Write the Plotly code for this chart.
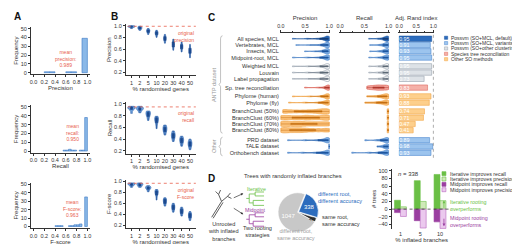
import plotly.graph_objects as go

W, H = 520, 244
FONT = "Liberation Sans"
INK = "#333333"
RED = "#e8604c"

# ===================== DATA =====================
# ---- Panel A: histograms ----
a_metrics = ["Precision", "Recall", "F-score"]
a_means = [0.989, 0.950, 0.963]
a_bin_widths = [0.1, 0.05, 0.05]
a_prec_centres = [0.25, 0.35, 0.65, 0.75, 0.95]
a_prec_counts = [1, 1, 1, 1, 39]
a_rec_centres = [0.575, 0.625, 0.675, 0.725, 0.775, 0.875, 0.925, 0.975]
a_rec_counts = [1, 1, 2, 1, 1, 1, 1, 38]
a_f_centres = [0.425, 0.475, 0.525, 0.675, 0.725, 0.775, 0.825, 0.875, 0.975]
a_f_counts = [1, 1, 1, 1, 1, 2, 2, 3, 35]
a_xticks = [0.0, 0.2, 0.4, 0.6, 0.8, 1.0]
a_yticks = [0, 10, 20, 30, 40, 50]

# ---- Panel B: violins per % randomised genes ----
b_categories = ["1", "2", "5", "10", "20", "30", "40", "50"]
b_precision = [
    [0.95, 0.97, 0.98, 0.98, 0.99, 0.99, 1.00],
    [0.92, 0.94, 0.95, 0.96, 0.97, 0.98, 0.99],
    [0.85, 0.88, 0.90, 0.91, 0.92, 0.93, 0.95],
    [0.80, 0.84, 0.86, 0.87, 0.88, 0.90, 0.92],
    [0.70, 0.74, 0.77, 0.78, 0.79, 0.82, 0.85],
    [0.58, 0.63, 0.66, 0.68, 0.70, 0.73, 0.77],
    [0.55, 0.60, 0.62, 0.64, 0.66, 0.68, 0.72],
    [0.45, 0.52, 0.55, 0.57, 0.59, 0.62, 0.68],
]
b_recall = [
    [0.84, 0.90, 0.92, 0.93, 0.94, 0.95, 0.96],
    [0.85, 0.89, 0.91, 0.92, 0.93, 0.94, 0.96],
    [0.72, 0.78, 0.81, 0.83, 0.85, 0.86, 0.88],
    [0.58, 0.67, 0.71, 0.73, 0.75, 0.77, 0.79],
    [0.47, 0.52, 0.55, 0.57, 0.59, 0.61, 0.64],
    [0.36, 0.41, 0.44, 0.46, 0.48, 0.50, 0.54],
    [0.28, 0.33, 0.36, 0.38, 0.40, 0.42, 0.45],
    [0.22, 0.27, 0.30, 0.32, 0.34, 0.36, 0.40],
]
b_fscore = [
    [0.89, 0.92, 0.94, 0.95, 0.95, 0.96, 0.97],
    [0.89, 0.91, 0.93, 0.94, 0.95, 0.96, 0.97],
    [0.81, 0.85, 0.87, 0.88, 0.89, 0.90, 0.92],
    [0.66, 0.74, 0.78, 0.80, 0.81, 0.83, 0.85],
    [0.55, 0.59, 0.62, 0.64, 0.66, 0.68, 0.70],
    [0.44, 0.48, 0.51, 0.53, 0.55, 0.57, 0.60],
    [0.37, 0.41, 0.44, 0.46, 0.48, 0.50, 0.53],
    [0.29, 0.33, 0.36, 0.38, 0.40, 0.42, 0.45],
]
b_orig_labels = ["original<br>precision", "original<br>recall", "original<br>F-score"]
b_yticks = [0.2, 0.4, 0.6, 0.8, 1.0]

# ---- Panel C: method comparison ----
c_rows = ["All species, MCL", "Vertebrates, MCL", "Insects, MCL", "Midpoint-root, MCL",
          "Weighted MCL", "Louvain", "Label propagation",
          "Sp. tree reconciliation",
          "Phylome (human)", "Phylome (fly)",
          "BranchClust (50%)", "BranchClust (60%)", "BranchClust (70%)", "BranchClust (80%)",
          "PRD dataset", "TALE dataset", "Orthobench dataset"]
c_groups = ["default", "variant", "variant", "variant",
            "other", "other", "other",
            "sptree",
            "otherSO", "otherSO",
            "otherSO", "otherSO", "otherSO", "otherSO",
            "variant", "variant", "variant"]
c_blocks = [4, 3, 1, 2, 4, 3]
c_ari = [0.95, 0.91, 0.93, 0.95, 0.95, 0.95, 0.73, 0.83, 0.93, 0.88,
         0.74, 0.71, 0.47, 0.41, 0.89, 0.98, 0.93]
c_prec = [
    [0.24, 0.55, 0.75, 0.85, 0.90, 0.93, 0.95, 0.96, 0.97, 0.98, 0.99, 1.0],
    [0.31, 0.60, 0.78, 0.86, 0.90, 0.93, 0.95, 0.96, 0.97, 0.98, 0.99, 1.0],
    [0.49, 0.70, 0.82, 0.88, 0.91, 0.94, 0.95, 0.96, 0.97, 0.98, 0.99, 1.0],
    [0.24, 0.55, 0.75, 0.85, 0.90, 0.93, 0.95, 0.96, 0.97, 0.98, 0.99, 1.0],
    [0.24, 0.56, 0.76, 0.85, 0.90, 0.93, 0.95, 0.96, 0.97, 0.98, 0.99, 1.0],
    [0.24, 0.56, 0.76, 0.85, 0.90, 0.93, 0.95, 0.96, 0.97, 0.98, 0.99, 1.0],
    [0.24, 0.56, 0.76, 0.85, 0.90, 0.93, 0.95, 0.96, 0.97, 0.98, 0.99, 1.0],
    [0.49, 0.78, 0.90, 0.95, 0.97, 0.98, 0.99, 1.0, 1.0, 1.0],
    [0.24, 0.60, 0.80, 0.88, 0.92, 0.95, 0.96, 0.97, 0.98, 0.99, 1.0],
    [0.16, 0.50, 0.75, 0.85, 0.90, 0.93, 0.95, 0.97, 0.98, 0.99, 1.0],
    [0.04, 0.12, 0.22, 0.33, 0.45, 0.56, 0.66, 0.75, 0.82, 0.88, 0.94, 1.0],
    [0.0, 0.09, 0.18, 0.28, 0.38, 0.48, 0.56, 0.65, 0.75, 0.85, 0.93, 1.0],
    [0.0, 0.08, 0.16, 0.25, 0.33, 0.41, 0.50, 0.60, 0.70, 0.80, 0.90, 1.0],
    [0.0, 0.07, 0.14, 0.22, 0.30, 0.38, 0.46, 0.55, 0.66, 0.78, 0.90, 1.0],
    [0.14, 0.50, 0.74, 0.84, 0.90, 0.93, 0.95, 0.97, 0.98, 0.99, 1.0],
    [0.99, 1.0, 1.0, 1.0, 1.0],
    [0.14, 0.45, 0.70, 0.82, 0.88, 0.92, 0.95, 0.97, 0.98, 0.99, 1.0],
]
c_rec = [
    [0.59, 0.78, 0.87, 0.91, 0.94, 0.96, 0.97, 0.98, 0.99, 1.0, 1.0],
    [0.61, 0.79, 0.87, 0.91, 0.94, 0.96, 0.97, 0.98, 0.99, 1.0, 1.0],
    [0.61, 0.79, 0.87, 0.91, 0.94, 0.96, 0.97, 0.98, 0.99, 1.0, 1.0],
    [0.59, 0.78, 0.87, 0.91, 0.94, 0.96, 0.97, 0.98, 0.99, 1.0, 1.0],
    [0.59, 0.78, 0.87, 0.91, 0.94, 0.96, 0.97, 0.98, 0.99, 1.0, 1.0],
    [0.59, 0.78, 0.87, 0.91, 0.94, 0.96, 0.97, 0.98, 0.99, 1.0, 1.0],
    [0.59, 0.78, 0.87, 0.91, 0.94, 0.96, 0.97, 0.98, 0.99, 1.0, 1.0],
    [0.55, 0.60, 0.65, 0.70, 0.74, 0.78, 0.81, 0.85, 0.89, 0.93, 0.97, 1.0],
    [0.55, 0.66, 0.75, 0.82, 0.87, 0.90, 0.93, 0.95, 0.97, 0.99, 1.0],
    [0.51, 0.63, 0.73, 0.80, 0.86, 0.90, 0.93, 0.95, 0.97, 0.99, 1.0],
    [0.97, 0.98, 0.99, 1.0, 1.0],
    [0.97, 0.98, 0.99, 1.0, 1.0],
    [0.97, 0.98, 0.99, 1.0, 1.0],
    [0.97, 0.98, 0.99, 1.0, 1.0],
    [0.51, 0.75, 0.85, 0.90, 0.94, 0.96, 0.98, 0.99, 1.0],
    [0.76, 0.88, 0.93, 0.96, 0.98, 0.99, 1.0],
    [0.24, 0.60, 0.78, 0.86, 0.91, 0.94, 0.96, 0.98, 0.99, 1.0],
]
c_group_names = {
    "default": "Possvm (SO+MCL, default)",
    "variant": "Possvm (SO+MCL, variants)",
    "other": "Possvm (SO+other clustering)",
    "sptree": "Species tree reconciliation",
    "otherSO": "Other SO methods",
}

# ---- Panel D ----
d_pie_labels = ["different root,<br>different accuracy", "same root,<br>same accuracy",
                "different root,<br>same accuracy"]
d_pie_values = [338, 48, 1047]
d_categories = ["1", "5", "10"]
d_iter_recall = [23, 74, 90]
d_iter_prec = [6, 20, 22]
d_mid_recall = [-9, -30, -33]
d_mid_prec = [-19, -49, -50]
d_series_names = ["Iterative improves recall", "Iterative improves precision",
                  "Midpoint improves recall", "Midpoint improves precision"]
d_yticks = [-40, -20, 0, 20, 40, 60, 80, 100]

# ===================== STYLE =====================
STY = {
    "default": dict(fill="#2c6cbd", line="#1f57a0", vfill="#2c6cbd", vline="#1f57a0", box="#163f78"),
    "variant": dict(fill="#9cc4ee", line="#4f8ad0", vfill="#86b6ea", vline="#3a76c0", box="#1f57a0"),
    "other": dict(fill="#dde2e7", line="#98a3ae", vfill="#ffffff", vline="#8a96a3", box="#5f6b78"),
    "sptree": dict(fill="#f5b0a8", line="#dd6a5f", vfill="#f3a59c", vline="#d9574b", box="#b0392e"),
    "otherSO": dict(fill="#fdcf8c", line="#f2a646", vfill="#fcc27a", vline="#ef9b35", box="#c46f10"),
}
GREEN, LGREEN = "#6abf45", "#cfe9b8"
PURPLE, LPURPLE = "#9a3ea0", "#ebc9ee"


def dom_x(a, b):
    return [a / W, b / W]


def dom_y(top, bottom):
    return [1 - bottom / H, 1 - top / H]


def px(x):
    return x / W


def py(y):
    return 1 - y / H


def axis(domain, anchor, title=None, size=5.5, standoff=1, **kw):
    d = dict(domain=domain, anchor=anchor, showline=True, linecolor=INK, linewidth=0.6,
             ticks="outside", ticklen=2, tickwidth=0.6, tickcolor=INK,
             tickfont=dict(size=size, color=INK, family=FONT),
             showgrid=False, zeroline=False, fixedrange=True)
    if title is not None:
        d["title"] = dict(text=title, font=dict(size=6, color=INK, family=FONT),
                          standoff=standoff)
    d.update(kw)
    return d


def ann(text, x, y, size=5.5, color=INK, xanchor="center", yanchor="middle", **kw):
    return dict(text=text, x=px(x), y=py(y), xref="paper", yref="paper", showarrow=False,
                font=dict(size=size, color=color, family=FONT), xanchor=xanchor,
                yanchor=yanchor, **kw)


fig = go.Figure()
layout = {}
annotations = []
shapes = []

# ===================== PANEL A =====================
a_data = [(a_prec_centres, a_prec_counts), (a_rec_centres, a_rec_counts), (a_f_centres, a_f_counts)]
a_rows = [(18, 66), (97, 145), (175, 221)]
a_note_pos = [(0.6, 3), (0.72, 8), (0.72, 8)]
a_note_names = ["precision", "recall", "F-score"]
for i in range(3):
    n = i + 1
    sfx = "" if n == 1 else str(n)
    cx, cy = a_data[i]
    fig.add_trace(go.Bar(x=cx, y=cy, width=a_bin_widths[i], xaxis=f"x{sfx}", yaxis=f"y{sfx}",
                         marker=dict(color="#8ab8e8", line=dict(color="#3b78c4", width=0.6)),
                         hoverinfo="skip"))
    layout[f"xaxis{sfx}"] = axis(dom_x(20, 80), f"y{sfx}", a_metrics[i], standoff=0,
                                 range=[-0.05, 1.05],
                                 tickvals=a_xticks, ticktext=[f"{t:.1f}" for t in a_xticks])
    layout[f"yaxis{sfx}"] = axis(dom_y(*a_rows[i]), f"x{sfx}", "Frequency", range=[-2, 52],
                                 tickvals=a_yticks)
    nx, ny = a_note_pos[i]
    annotations.append(dict(text=f"mean<br>{a_note_names[i]}:<br>{a_means[i]:.3f}",
                            x=nx, y=ny, xref=f"x{sfx}", yref=f"y{sfx}", showarrow=False,
                            xanchor="center", yanchor="bottom",
                            font=dict(size=5, color=RED, family=FONT)))

# ===================== PANEL B =====================
b_sets = [b_precision, b_recall, b_fscore]
b_rows = [(15, 67), (94, 146), (172, 221)]
for i in range(3):
    n = i + 4
    xs, ys = [], []
    for cat, vals in zip(b_categories, b_sets[i]):
        xs += [cat] * len(vals)
        ys += vals
    fig.add_trace(go.Violin(x=xs, y=ys, xaxis=f"x{n}", yaxis=f"y{n}", width=0.9,
                            spanmode="hard", scalemode="width", points=False,
                            fillcolor="#6fa3df", line=dict(color="#2a5ea8", width=0.6),
                            box=dict(visible=True, width=0.3, fillcolor="#1d4a8f",
                                     line=dict(color="#1d4a8f", width=0.6)),
                            meanline=dict(visible=False), hoverinfo="skip"))
    layout[f"xaxis{n}"] = axis(dom_x(116, 187), f"y{n}", "% randomised genes", standoff=0,
                               type="category", categoryorder="array",
                               categoryarray=b_categories, range=[-0.7, 7.7])
    layout[f"yaxis{n}"] = axis(dom_y(*b_rows[i]), f"x{n}", a_metrics[i], range=[0.15, 1.03],
                               tickvals=b_yticks, ticktext=[f"{t:.1f}" for t in b_yticks])
    shapes.append(dict(type="line", xref=f"x{n} domain", yref=f"y{n}", x0=0.03, x1=1.0,
                       y0=a_means[i], y1=a_means[i],
                       line=dict(color=RED, width=0.8, dash="dot")))
    annotations.append(dict(text=b_orig_labels[i], x=1.0, y=a_means[i] - 0.025,
                            xref=f"x{n} domain", yref=f"y{n}", showarrow=False,
                            xanchor="right", yanchor="top", align="right",
                            font=dict(size=5, color=RED, family=FONT)))

# ===================== PANEL C =====================
gaps = [0, 0.4, 0.4, 0.4, 0.4, 0.6]
c_pos = []
cur = 0.0
for bi, nb in enumerate(c_blocks):
    cur += gaps[bi]
    for _ in range(nb):
        c_pos.append(cur)
        cur += 1
C_TOP, C_BOT = 24, 150
c_range = [c_pos[-1] + 0.8, -0.95]


def c_py(p):
    return C_TOP + (p - c_range[1]) * (C_BOT - C_TOP) / (c_range[0] - c_range[1])


for r, name in enumerate(c_rows):
    st = STY[c_groups[r]]
    for samples, ax_n in ((c_prec[r], 7), (c_rec[r], 8)):
        fig.add_trace(go.Violin(x=samples, y=[c_pos[r]] * len(samples), orientation="h",
                                xaxis=f"x{ax_n}", yaxis=f"y{ax_n}", width=0.85, bandwidth=0.05,
                                spanmode="hard", scalemode="width", points=False,
                                fillcolor=st["vfill"], line=dict(color=st["vline"], width=0.6),
                                box=dict(visible=True, width=0.25, fillcolor=st["box"],
                                         line=dict(color=st["box"], width=0.5)),
                                meanline=dict(visible=False), hoverinfo="skip"))

for g in ["default", "variant", "other", "sptree", "otherSO"]:
    idx = [i for i, gg in enumerate(c_groups) if gg == g]
    st = STY[g]
    fig.add_trace(go.Bar(y=[c_pos[i] for i in idx], x=[c_ari[i] for i in idx], orientation="h",
                         xaxis="x9", yaxis="y9", width=0.85,
                         marker=dict(color=st["fill"], line=dict(color=st["line"], width=0.6)),
                         text=[f"{c_ari[i]:.2f}" for i in idx], textposition="inside",
                         insidetextanchor="start", constraintext="none",
                         textfont=dict(size=5.3, color="white", family=FONT),
                         hoverinfo="skip"))

c_x = [((272, 323), "Precision"), ((332, 383), "Recall"), ((392, 428), "Adj. Rand index")]
for k, ((a, b), title) in enumerate(c_x):
    n = 7 + k
    layout[f"xaxis{n}"] = axis(dom_x(a, b), f"y{n}", title, size=5.3, side="top",
                               range=[-0.02, 1.02], tickmode="array", tickvals=[0, 0.5, 1.0],
                               ticktext=["0.0", "0.5", "1.0"],
                               minor=dict(tickvals=[0.25, 0.75], ticks="outside", ticklen=1.5,
                                          tickwidth=0.6, tickcolor=INK))
    yax = axis(dom_y(C_TOP, C_BOT), f"x{n}", range=c_range, showline=False, ticks="")
    if n == 7:
        yax.update(tickvals=c_pos, ticktext=c_rows, tickfont=dict(size=5.6, color=INK, family=FONT))
    else:
        yax.update(showticklabels=False)
    layout[f"yaxis{n}"] = yax

shapes.append(dict(type="line", xref="x9", yref="y9 domain", x0=1, x1=1, y0=0, y1=1,
                   line=dict(color="#777", width=0.6, dash="dot")))


def bracket(top, bottom, x=212):
    mid = (top + bottom) / 2
    path = (f"M {px(x+2)},{py(top)} Q {px(x)},{py(top)} {px(x)},{py(top+3)} "
            f"L {px(x)},{py(mid-2)} L {px(x-1.5)},{py(mid)} L {px(x)},{py(mid+2)} "
            f"L {px(x)},{py(bottom-3)} Q {px(x)},{py(bottom)} {px(x+2)},{py(bottom)}")
    return dict(type="path", xref="paper", yref="paper", path=path,
                line=dict(color="#999", width=0.6))


antp_top, antp_bot = c_py(c_pos[0]) - 3, c_py(c_pos[13]) + 3
oth_top, oth_bot = c_py(c_pos[14]) - 3, c_py(c_pos[16]) + 3
shapes.append(bracket(antp_top, antp_bot))
shapes.append(bracket(oth_top, oth_bot))
annotations.append(ann("ANTP dataset", 206, (antp_top + antp_bot) / 2, size=5.5, color="#999",
                       textangle=-90))
annotations.append(ann("Other", 206, (oth_top + oth_bot) / 2, size=5.5, color="#999",
                       textangle=-90))

# C legend
for k, g in enumerate(["default", "variant", "other", "sptree", "otherSO"]):
    yy = 29 + 5.4 * k
    st = STY[g]
    shapes.append(dict(type="rect", xref="paper", yref="paper", x0=px(438.5), x1=px(441.8),
                       y0=py(yy + 1.6), y1=py(yy - 1.6), fillcolor=st["fill"],
                       line=dict(color=st["line"], width=0.5)))
    annotations.append(ann(c_group_names[g], 443.5, yy, size=5.0, xanchor="left"))

# ===================== PANEL D =====================
annotations.append(ann("Trees with randomly inflated branches", 285, 168, size=5.8))

fig.add_trace(go.Pie(values=d_pie_values, labels=d_pie_labels, sort=False, direction="clockwise",
                     rotation=22, pull=[0.06, 0, 0],
                     marker=dict(colors=["#2c6cbd", "#2b2b2b", "#c8c8c8"],
                                 line=dict(color="white", width=0.6)),
                     textinfo="value", textposition=["inside", "none", "inside"],
                     insidetextfont=dict(size=6, color="white", family=FONT),
                     insidetextorientation="horizontal",
                     domain=dict(x=dom_x(269, 311), y=dom_y(184, 226)),
                     showlegend=False, hoverinfo="skip"))
annotations.append(ann(d_pie_labels[0], 309, 190, size=5.6, color="#2c6cbd", xanchor="left",
                       align="left"))
annotations.append(ann(str(d_pie_values[1]), 305, 212, size=5.3, color=INK))
annotations.append(ann(d_pie_labels[1], 313, 213, size=5.6, color=INK, xanchor="left",
                       align="left"))
annotations.append(ann(d_pie_labels[2], 288, 227, size=5.6, color="#a0a0a0"))

d_specs = [
    (d_iter_recall, GREEN, GREEN, -0.3),
    (d_iter_prec, LGREEN, GREEN, 0.0),
    (d_mid_recall, PURPLE, PURPLE, -0.3),
    (d_mid_prec, LPURPLE, "#b767bd", 0.0),
]
for vals, fillc, linec, off in d_specs:
    fig.add_trace(go.Bar(x=d_categories, y=vals, xaxis="x10", yaxis="y10", width=0.3,
                         offset=off, marker=dict(color=fillc, line=dict(color=linec, width=0.6)),
                         hoverinfo="skip"))
layout["xaxis10"] = axis(dom_x(385, 446), "y10", "% inflated branches", standoff=0,
                         type="category", categoryorder="array", categoryarray=d_categories,
                         range=[-0.45, 2.6], showline=False, ticks="")
layout["yaxis10"] = axis(dom_y(161, 222), "x10", "# trees", range=[-52, 105], tickvals=d_yticks)
shapes.append(dict(type="line", xref="x10 domain", yref="y10", x0=0, x1=1, y0=0, y1=0,
                   line=dict(color="#222", width=0.7, dash="dot")))
annotations.append(ann(f"<i>n</i> = {d_pie_values[0]}", 389, 166, size=6, xanchor="left"))

d_leg_styles = [(GREEN, GREEN), (LGREEN, GREEN), (PURPLE, PURPLE), (LPURPLE, "#b767bd")]
for k, name in enumerate(d_series_names):
    yy = 166 + 5.4 * k
    fc, lc = d_leg_styles[k]
    shapes.append(dict(type="rect", xref="paper", yref="paper", x0=px(436), x1=px(440),
                       y0=py(yy + 2), y1=py(yy - 2), fillcolor=fc, line=dict(color=lc, width=0.6)))
    annotations.append(ann(name, 442, yy, size=5.3, xanchor="left"))

annotations.append(dict(text="", x=px(438), y=py(193), xref="paper", yref="paper",
                        ax=0, ay=9, showarrow=True, arrowhead=2, arrowsize=0.7,
                        arrowwidth=0.8, arrowcolor=GREEN))
annotations.append(ann("Iterative rooting<br>overperforms", 442, 198, size=5.3, color=GREEN,
                       xanchor="left", align="left"))
annotations.append(dict(text="", x=px(438), y=py(219), xref="paper", yref="paper",
                        ax=0, ay=-9, showarrow=True, arrowhead=2, arrowsize=0.7,
                        arrowwidth=0.8, arrowcolor=PURPLE))
annotations.append(ann("Midpoint rooting<br>overperforms", 442, 214, size=5.3, color=PURPLE,
                       xanchor="left", align="left"))


def seg(x0, y0, x1, y1, color, w=0.8):
    return dict(type="line", xref="paper", yref="paper", x0=px(x0), y0=py(y0), x1=px(x1),
                y1=py(y1), line=dict(color=color, width=w))


tree_tpl = [(0, 7, 3, 7), (3, 2.5, 3, 11.5), (3, 2.5, 9, 2.5), (9, 0.5, 9, 4.5),
            (9, 0.5, 18, 0.5), (9, 4.5, 18, 4.5), (3, 11.5, 7, 11.5), (7, 9, 7, 14),
            (7, 9, 18, 9), (7, 14, 18, 14)]
for (ox, oy, col) in [(238, 184, GREEN), (238, 205, PURPLE)]:
    for (a, b, c, d) in tree_tpl:
        shapes.append(seg(ox + a, oy + b, ox + c, oy + d, col))
annotations.append(ann("Iterative", 248, 181, size=5.3, color=GREEN))
annotations.append(ann("Midpoint", 247, 202.5, size=5.3, color=PURPLE))

unrooted = [(213, 194, 210, 187), (210, 187, 207, 184), (210, 187, 212, 182.5),
            (213, 194, 219, 189), (219, 189, 222, 185.5), (219, 189, 223, 191),
            (213, 194, 203, 210), (214.5, 195, 204.5, 211)]
for s in unrooted:
    shapes.append(seg(*s, INK))
annotations.append(dict(text="", x=px(235), y=py(186), xref="paper", yref="paper", ax=-11,
                        ay=5, showarrow=True, arrowhead=2, arrowsize=0.7, arrowwidth=0.7,
                        arrowcolor=INK))
annotations.append(dict(text="", x=px(235), y=py(207), xref="paper", yref="paper", ax=-11,
                        ay=-7, showarrow=True, arrowhead=2, arrowsize=0.7, arrowwidth=0.7,
                        arrowcolor=INK))
annotations.append(ann("Unrooted<br>with inflated<br>branches", 215, 224, size=5.6))
annotations.append(ann("Two rooting<br>strategies", 249, 224, size=5.6))

for letter, x, y in [("A", 1, 0), ("B", 99, 0), ("C", 197, 1), ("D", 197, 163)]:
    annotations.append(ann(f"<b>{letter}</b>", x, y, size=10, color="#111", xanchor="left",
                           yanchor="top"))

layout.update(width=W, height=H, margin=dict(l=0, r=0, t=0, b=0), autosize=False,
              paper_bgcolor="white", plot_bgcolor="white", showlegend=False,
              barmode="overlay", violinmode="overlay",
              font=dict(family=FONT, size=5.5, color=INK),
              annotations=annotations, shapes=shapes)
fig.update_layout(**layout)
fig.write_html("out.html")
